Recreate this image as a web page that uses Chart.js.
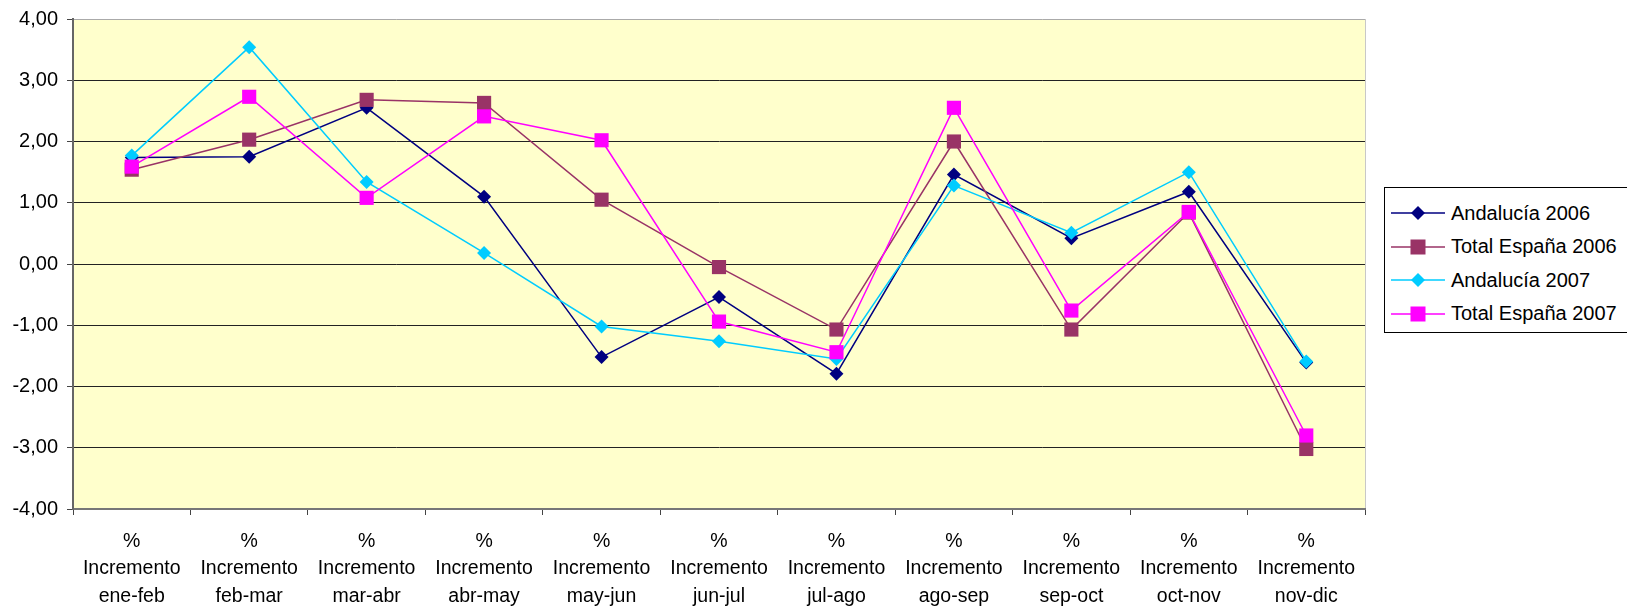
<!DOCTYPE html>
<html>
<head>
<meta charset="utf-8">
<script src="https://cdn.jsdelivr.net/npm/chart.js@4"></script>
<style>
  body { margin: 0; background: #fff; }
  #wrap { position: relative; width: 1627px; height: 606px; }
  #legend {
    position: absolute; left: 1384px; top: 187px; width: 250px; height: 146px;
    border: 1px solid #000; background: #fff; box-sizing: border-box;
    font: 20px "Liberation Sans", Arial, sans-serif; color: #000;
  }
  .row { position: absolute; left: 6px; height: 24px; display: flex; align-items: center; white-space: nowrap; }
  .row svg { margin-right: 6px; }
</style>
</head>
<body>
<div id="wrap">
  <canvas id="myChart" width="1627" height="606"></canvas>
  <div id="legend"></div>
</div>
<script>
// categorias
let periodos = ['ene-feb','feb-mar','mar-abr','abr-may','may-jun','jun-jul','jul-ago','ago-sep','sep-oct','oct-nov','nov-dic'];

// series (% incremento)
let andalucia2006 = [1.74, 1.75, 2.55, 1.10, -1.52, -0.54, -1.79, 1.46, 0.42, 1.18, -1.61];
let espana2006    = [1.54, 2.03, 2.68, 2.63, 1.05, -0.05, -1.07, 2.00, -1.07, 0.84, -3.02];
let andalucia2007 = [1.77, 3.54, 1.34, 0.18, -1.02, -1.26, -1.55, 1.28, 0.51, 1.50, -1.59];
let espana2007    = [1.59, 2.73, 1.08, 2.41, 2.02, -0.94, -1.44, 2.55, -0.76, 0.85, -2.80];

let nombres = ['Andalucía 2006', 'Total España 2006', 'Andalucía 2007', 'Total España 2007'];
let colores = ['#000080', '#993366', '#00CCFF', '#FF00FF'];
let formas = ['rectRot', 'rect', 'rectRot', 'rect'];

let labels = periodos.map(p => ['%', 'Incremento', p]);
let series = [andalucia2006, espana2006, andalucia2007, espana2007];

let datasets = series.map((s, i) => ({
  label: nombres[i],
  data: s,
  borderColor: colores[i],
  backgroundColor: colores[i],
  borderWidth: 1.5,
  pointStyle: formas[i],
  pointRadius: formas[i] == 'rect' ? 10 : 7,
  pointHoverRadius: formas[i] == 'rect' ? 10 : 7,
  pointBorderWidth: 0,
  tension: 0,
  order: 4 - i
}));

// fondo amarillo del area de trazado
const fondo = {
  id: 'fondo',
  beforeDraw(chart) {
    const a = chart.chartArea;
    const ctx = chart.ctx;
    ctx.save();
    ctx.fillStyle = '#FFFFCC';
    ctx.fillRect(a.left, a.top, a.right - a.left, a.bottom - a.top);
    ctx.strokeStyle = '#c8c8c8';
    ctx.lineWidth = 1;
    ctx.beginPath();
    ctx.moveTo(a.right + 0.5, a.top);
    ctx.lineTo(a.right + 0.5, a.bottom);
    ctx.stroke();
    ctx.restore();
  }
};

Chart.defaults.font.family = '"Liberation Sans", Arial, sans-serif';
Chart.defaults.font.size = 20;
Chart.defaults.color = '#000';

const config = {
  type: 'line',
  data: { labels: labels, datasets: datasets },
  plugins: [fondo],
  options: {
    responsive: false,
    animation: false,
    layout: { padding: { top: 19, right: 262, left: 0, bottom: 0 } },
    plugins: {
      legend: { display: false },
      tooltip: { enabled: false }
    },
    scales: {
      x: {
        offset: true,
        grid: { display: true, drawOnChartArea: false, offset: true, color: '#444', tickLength: 6 },
        border: { display: true, color: '#777', width: 2 },
        ticks: { maxRotation: 0, autoSkip: false, padding: 13, font: { size: 19.5, lineHeight: 1.4 } },
        afterFit(scale) { scale.height = 97; }
      },
      y: {
        min: -4, max: 4,
        ticks: {
          stepSize: 1,
          padding: 9,
          font: { size: 20, lineHeight: 1 },
          callback: v => v.toFixed(2).replace('.', ',')
        },
        grid: {
          color: ctx => ctx.tick && ctx.tick.value === 4 ? '#aaaaaa' : '#222',
          tickColor: '#444',
          lineWidth: 1,
          tickLength: 6
        },
        border: { display: true, color: '#666', width: 2 },
        afterFit(scale) { scale.width = 73; scale.paddingTop = 0; scale.paddingBottom = 0; }
      }
    }
  }
};

let myChart = new Chart(document.getElementById('myChart'), config);

// leyenda
let leg = document.getElementById('legend');
nombres.forEach((n, i) => {
  let marca = formas[i] == 'rect'
    ? '<rect x="19.5" y="4.5" width="15" height="15" fill="' + colores[i] + '"/>'
    : '<polygon points="27,5 34,12 27,19 20,12" fill="' + colores[i] + '"/>';
  let row = document.createElement('div');
  row.className = 'row';
  row.style.top = (13 + i * 33.5) + 'px';
  row.innerHTML = '<svg width="54" height="24"><line x1="0" y1="12" x2="54" y2="12" stroke="' + colores[i] + '" stroke-width="1.5"/>' + marca + '</svg><span>' + n + '</span>';
  leg.appendChild(row);
});
</script>
</body>
</html>
